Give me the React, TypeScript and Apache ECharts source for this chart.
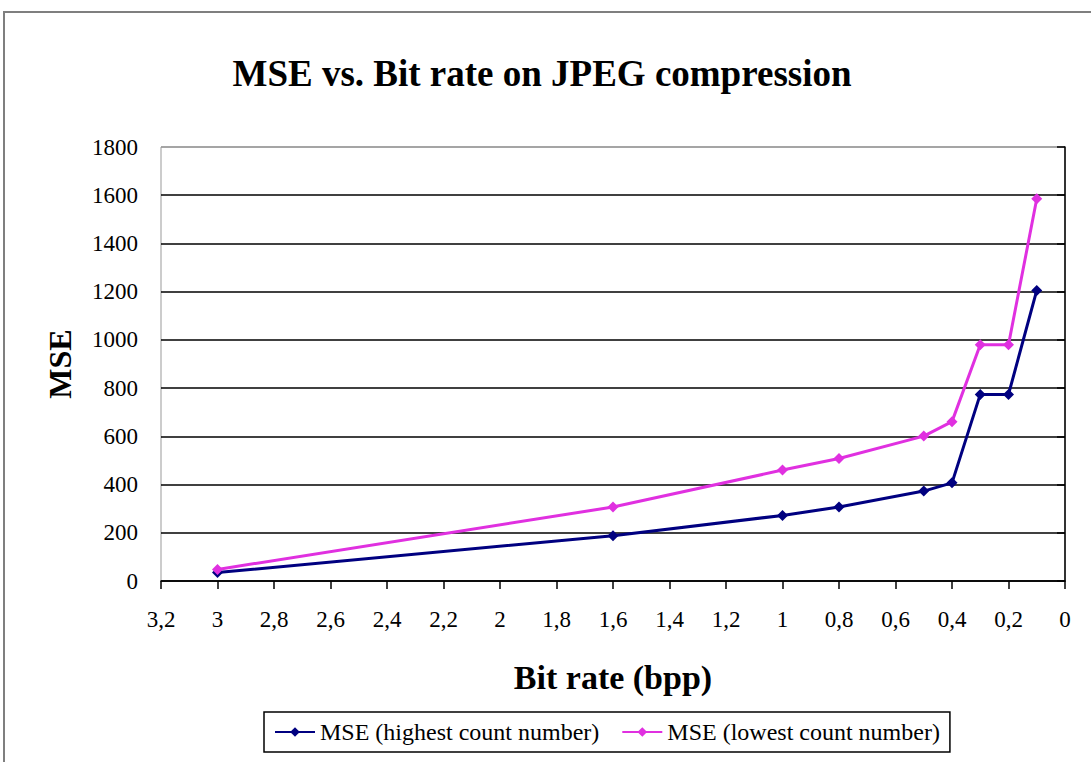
import React, { useEffect, useRef } from "react";
import * as echarts from "echarts";

const bitRates = [3, 1.6, 1, 0.8, 0.5, 0.4, 0.3, 0.2, 0.1];
const mseHighest = [35, 188, 272, 307, 373, 407, 774, 774, 1205];
const mseLowest = [48, 307, 460, 508, 601, 661, 980, 980, 1585];
const seriesNames = ["MSE (highest count number)", "MSE (lowest count number)"];
const titleText = "MSE vs. Bit rate on JPEG compression";
const xName = "Bit rate (bpp)";
const yName = "MSE";

const FONT = "'Liberation Serif', 'Times New Roman', serif";

export default function App() {
  const ref = useRef<HTMLDivElement>(null);
  useEffect(() => {
    document.body.style.margin = "0";
    const chart = echarts.init(ref.current!, null, { renderer: "svg" });
    const splitColors = ["#000", "#000", "#000", "#000", "#000", "#000", "#000", "#000", "#000", "#999"];
    chart.setOption({
      animation: false,
      backgroundColor: "#fff",
      textStyle: { fontFamily: FONT },
      title: {
        text: titleText,
        left: 537,
        textAlign: "center",
        top: 50,
        textStyle: { fontFamily: FONT, fontSize: 37, fontWeight: "bold", color: "#000" },
      },
      graphic: [
        {
          type: "rect",
          shape: { x: 4, y: 12, width: 1100, height: 800 },
          style: { fill: "none", stroke: "#7f7f7f", lineWidth: 2 },
          silent: true,
        },
      ],
      grid: {
        left: 161,
        right: 26,
        top: 147,
        bottom: 181,
        show: true,
        borderColor: "#999",
        borderWidth: 1,
      },
      legend: {
        left: 264,
        top: 712,
        orient: "horizontal",
        itemWidth: 40,
        itemHeight: 12,
        itemGap: 22,
        padding: [8, 10, 8, 10],
        borderColor: "#000",
        borderWidth: 1.5,
        textStyle: { fontFamily: FONT, fontSize: 24, color: "#000" },
        data: seriesNames,
      },
      xAxis: {
        type: "value",
        inverse: true,
        min: 0,
        max: 3.2,
        interval: 0.2,
        name: xName,
        nameLocation: "middle",
        nameGap: 79,
        nameTextStyle: { fontFamily: FONT, fontSize: 34, fontWeight: "bold", color: "#000" },
        axisLine: { show: true, lineStyle: { color: "#000", width: 1.5 } },
        axisTick: { show: true, length: 8, lineStyle: { color: "#000", width: 1.5 } },
        splitLine: { show: false },
        axisLabel: {
          margin: 27,
          fontFamily: FONT,
          fontSize: 23,
          color: "#000",
          formatter: (v: number) => String(Number(v.toFixed(1))).replace(".", ","),
        },
      },
      yAxis: {
        type: "value",
        min: 0,
        max: 1800,
        interval: 200,
        name: yName,
        nameLocation: "middle",
        nameGap: 85,
        nameRotate: 90,
        nameTextStyle: { fontFamily: FONT, fontSize: 32, fontWeight: "bold", color: "#000" },
        axisLine: { show: true, lineStyle: { color: "#000", width: 1.5 } },
        axisTick: { show: true, length: 8, lineStyle: { color: "#000", width: 1.5 } },
        splitLine: { show: true, lineStyle: { color: splitColors, width: 1.5 } },
        axisLabel: {
          margin: 23,
          fontFamily: FONT,
          fontSize: 23,
          color: "#000",
          formatter: (v: number) => String(v),
        },
      },
      series: [
        {
          name: seriesNames[0],
          type: "line",
          data: bitRates.map((x, i) => [x, mseHighest[i]]),
          symbol: "diamond",
          symbolSize: 11,
          lineStyle: { color: "#000080", width: 3 },
          itemStyle: { color: "#000080" },
        },
        {
          name: seriesNames[1],
          type: "line",
          data: bitRates.map((x, i) => [x, mseLowest[i]]),
          symbol: "diamond",
          symbolSize: 11,
          lineStyle: { color: "#e030e0", width: 3 },
          itemStyle: { color: "#e030e0" },
        },
      ],
    });
    return () => chart.dispose();
  }, []);
  return <div ref={ref} style={{ width: 1091, height: 762, position: "absolute", left: 0, top: 0 }} />;
}
